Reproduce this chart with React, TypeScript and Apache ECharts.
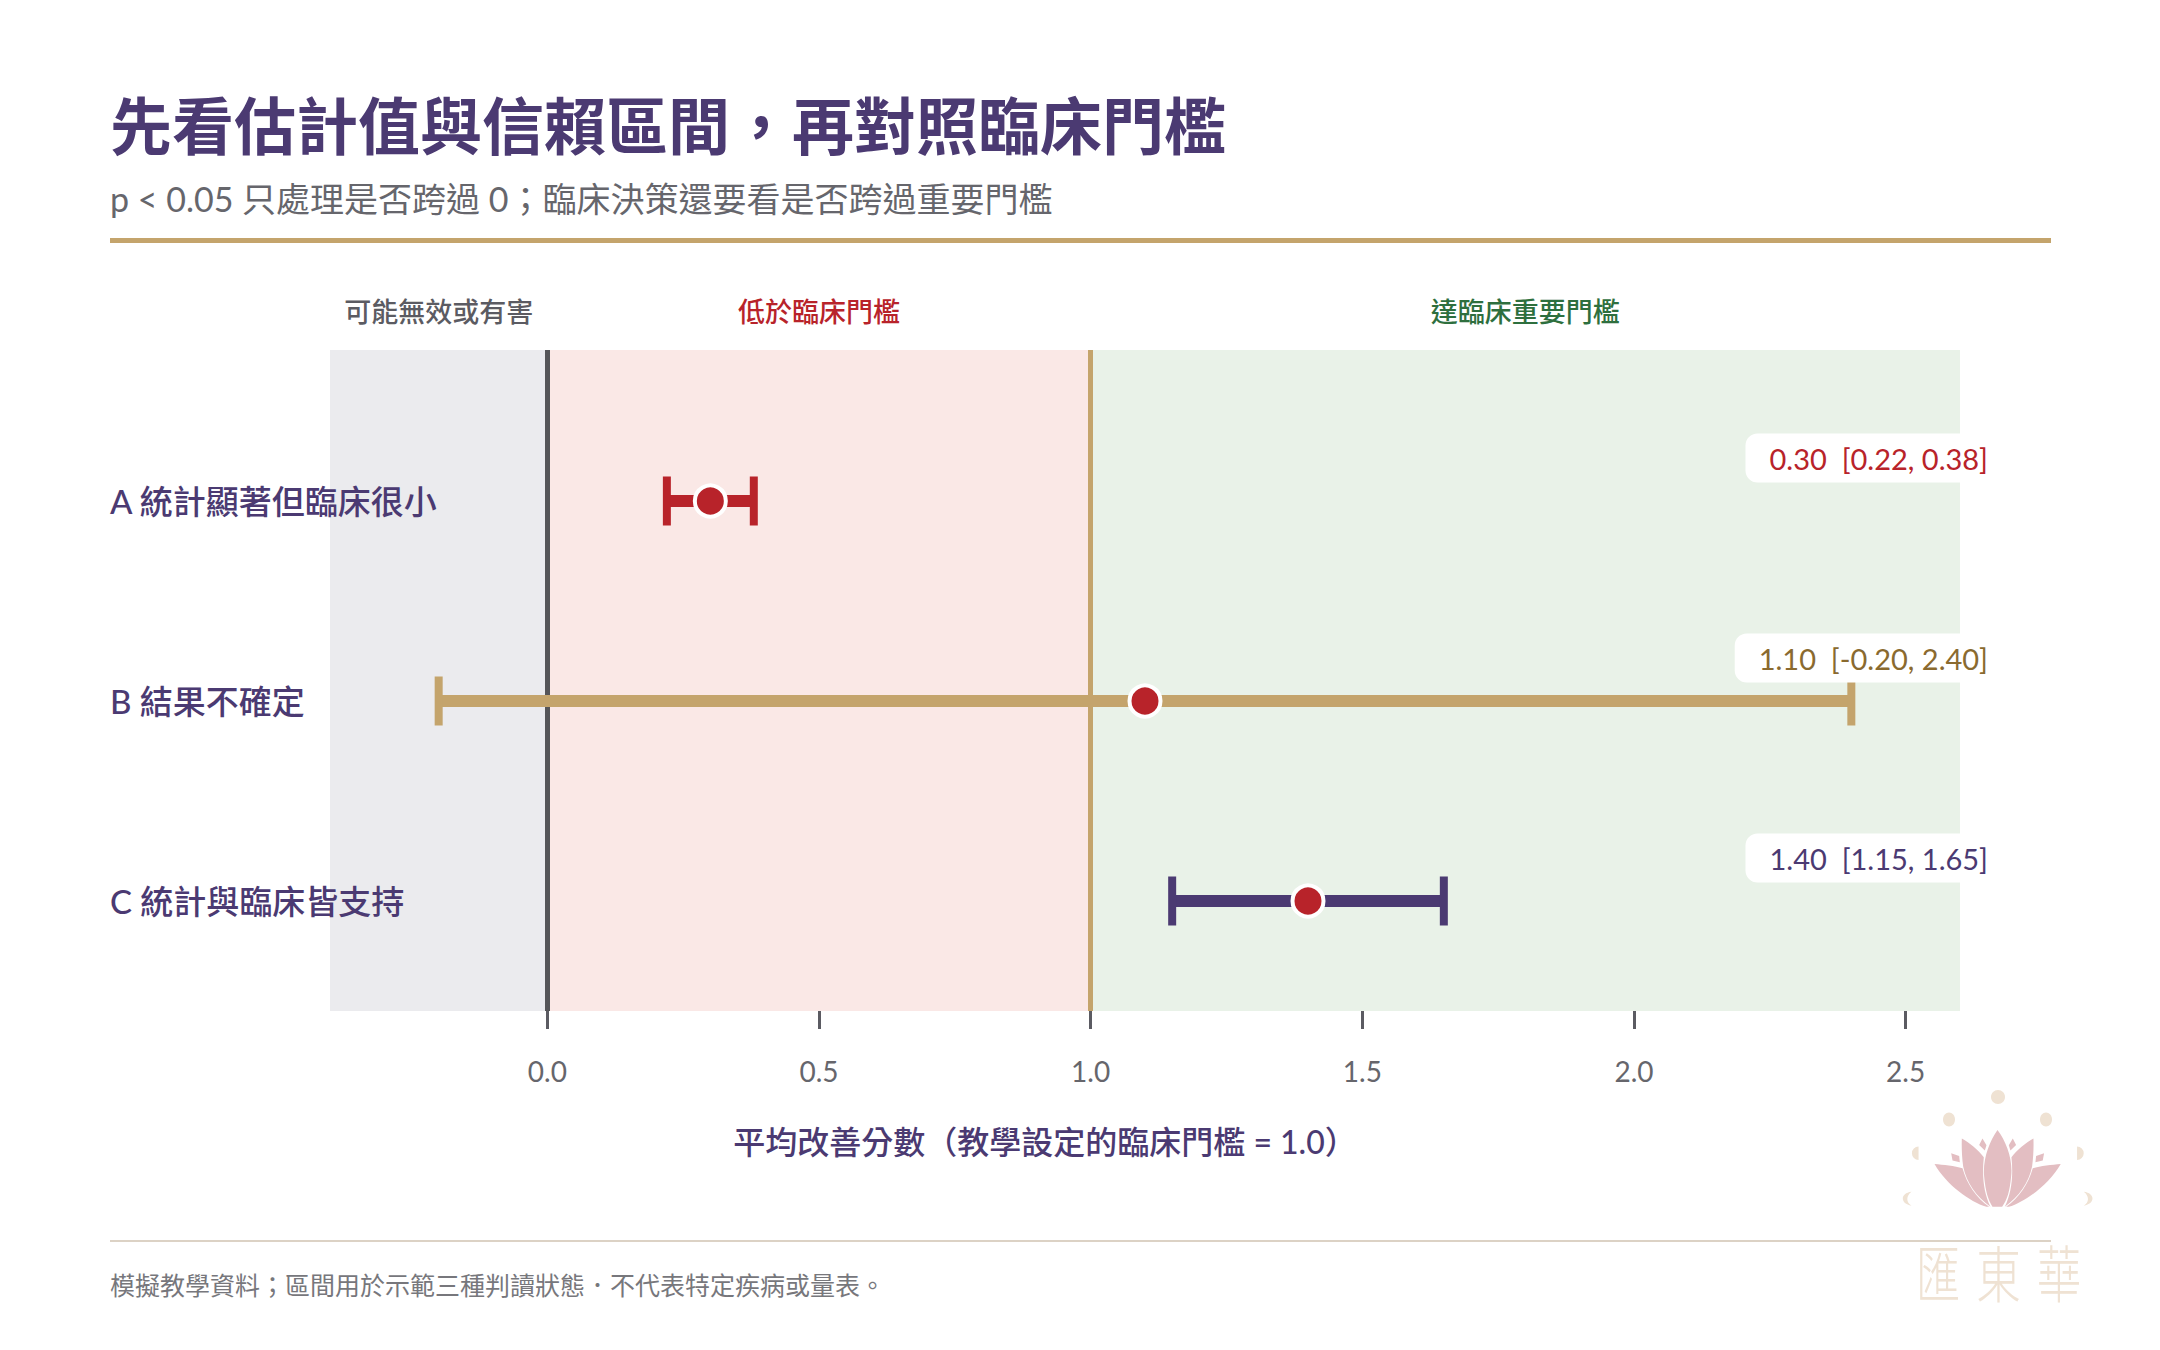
import React, { useEffect, useRef } from "react";
import * as echarts from "echarts";

const FONT = 'Lato, "Noto Sans CJK TC", "Noto Sans CJK SC", sans-serif';
const PURPLE = "#4B3A72";
const GOLD = "#C4A46C";
const RED = "#B8232A";
const GREY = "#5B5B62";

const title = "先看估計值與信賴區間，再對照臨床門檻";
const subtitle = "p < 0.05 只處理是否跨過 0；臨床決策還要看是否跨過重要門檻";
const xAxisTitle = "平均改善分數（教學設定的臨床門檻 = 1.0）";
const footnote = "模擬教學資料；區間用於示範三種判讀狀態．不代表特定疾病或量表。";
const logoChars = ["匯", "東", "華"];

const categories = ["A 統計顯著但臨床很小", "B 結果不確定", "C 統計與臨床皆支持"];
const estimates = [0.3, 1.1, 1.4];
const lows = [0.22, -0.2, 1.15];
const highs = [0.38, 2.4, 1.65];
const barColors = [RED, GOLD, PURPLE];
const labelColors = [RED, "#8A6A2F", PURPLE];

const xTicks = [0, 0.5, 1, 1.5, 2, 2.5];
const regionNames = ["可能無效或有害", "低於臨床門檻", "達臨床重要門檻"];
const regionStarts = [-0.4, 0, 1];
const regionEnds = [0, 1, 2.6];
const regionFills = ["#EBEBEE", "#FAE8E6", "#E9F2E8"];
const regionTextColors = [GREY, RED, "#2E6F3E"];

const lotusPath =
  "M593 210C620 245 640 300 634 350C630 395 622 420 607 441L578 441C565 420 557 395 553 350C548 300 568 245 593 210Z" +
  "M486 236C510 250 535 270 552 292C546 350 552 400 572 441C530 410 500 370 490 320C486 290 485 260 486 236Z" +
  "M701 236C677 250 652 270 635 292C641 350 635 400 615 441C657 410 687 370 697 320C701 290 702 260 701 236Z" +
  "M404 312C430 314 465 318 488 325C500 370 530 415 568 441L560 441C510 425 440 375 404 312Z" +
  "M783 312C757 314 722 318 699 325C687 370 657 415 619 441L627 441C677 425 747 375 783 312Z" +
  "M548 236L560 256L555 272L538 255Z M639 236L627 256L632 272L649 255Z" +
  "M454 280L478 288L480 307L458 302Z M733 280L709 288L707 307L729 302Z";
const lotusDots =
  "M356 260A20 20 0 0 0 356 300Z M832 260A20 20 0 0 1 832 300Z" +
  "M335 396C300 400 300 432 335 438C318 428 318 408 335 396Z" +
  "M852 396C887 400 887 432 852 438C869 428 869 408 852 396Z";

echarts.graphic.registerShape("lotus", echarts.graphic.extendPath(lotusPath, {}) as any);
echarts.graphic.registerShape("lotusDots", echarts.graphic.extendPath(lotusDots, {}) as any);

function renderInterval(params: any, api: any) {
  const i = params.dataIndex;
  const y = api.value(0);
  const [x0, yc] = api.coord([api.value(2), y]);
  const [x1] = api.coord([api.value(3), y]);
  const [xm] = api.coord([api.value(1), y]);
  const [xEnd] = api.coord([2.6, y]);
  const barH = 12;
  const capW = 8;
  const capH = 49;
  return {
    type: "group",
    children: [
      { type: "rect", shape: { x: x0, y: yc - barH / 2, width: x1 - x0, height: barH }, style: { fill: barColors[i] } },
      { type: "rect", shape: { x: x0 - capW / 2, y: yc - capH / 2, width: capW, height: capH }, style: { fill: barColors[i] } },
      { type: "rect", shape: { x: x1 - capW / 2, y: yc - capH / 2, width: capW, height: capH }, style: { fill: barColors[i] } },
      { type: "circle", shape: { cx: xm, cy: yc, r: 15.5 }, style: { fill: RED, stroke: "#FFFFFF", lineWidth: 4 } },
      {
        type: "text",
        style: {
          x: xEnd + 52,
          y: yc - 43,
          text: `${api.value(1).toFixed(2)}  [${api.value(2).toFixed(2)}, ${api.value(3).toFixed(2)}]`,
          fill: labelColors[i],
          font: `400 29px ${FONT}`,
          align: "right",
          verticalAlign: "middle",
          lineHeight: 31,
          backgroundColor: "#FFFFFF",
          padding: [9, 24, 9, 24],
          borderRadius: 12,
        },
      },
    ],
  };
}

function buildOption() {
  return {
    animation: false,
    backgroundColor: "#FFFFFF",
    textStyle: { fontFamily: FONT },
    grid: { left: 330, right: 200, top: 350, height: 661, containLabel: false },
    xAxis: {
      type: "value",
      min: -0.4,
      max: 2.6,
      z: 10,
      splitLine: { show: false },
      axisLine: { show: true, onZero: false, lineStyle: { color: "rgba(0,0,0,0)", width: 0 } },
      axisTick: { show: true, customValues: xTicks, length: 18, lineStyle: { color: GREY, width: 3 } },
      axisLabel: {
        customValues: xTicks,
        margin: 46,
        color: "#66666C",
        fontSize: 28,
        fontFamily: FONT,
        formatter: (v: number) => v.toFixed(1),
      },
    },
    yAxis: {
      type: "value",
      inverse: true,
      min: -0.755,
      max: 2.55,
      z: 10,
      splitLine: { show: false },
      axisLine: { show: false },
      axisTick: { show: false },
      axisLabel: {
        customValues: [0, 1, 2],
        margin: 220,
        align: "left",
        color: PURPLE,
        fontSize: 33,
        fontWeight: 500,
        fontFamily: FONT,
        formatter: (v: number) => categories[v],
      },
    },
    series: [
      {
        type: "custom",
        name: "interval",
        coordinateSystem: "cartesian2d",
        clip: false,
        z: 5,
        encode: { x: [1, 2, 3], y: 0 },
        data: categories.map((_, i) => [i, estimates[i], lows[i], highs[i]]),
        renderItem: renderInterval,
        markArea: {
          silent: true,
          z: 1,
          data: regionNames.map((name, i) => [
            {
              name,
              xAxis: regionStarts[i],
              itemStyle: { color: regionFills[i] },
              label: {
                show: true,
                position: "top",
                distance: 25,
                color: regionTextColors[i],
                fontSize: 27,
                fontWeight: 500,
                fontFamily: FONT,
              },
            },
            { xAxis: regionEnds[i] },
          ]),
        },
        markLine: {
          silent: true,
          symbol: "none",
          z: 2,
          label: { show: false },
          data: [
            { xAxis: 0, lineStyle: { color: "#555558", width: 5, type: "solid" } },
            { xAxis: 1, lineStyle: { color: GOLD, width: 5, type: "solid" } },
          ],
        },
      },
    ],
    graphic: [
      { type: "text", x: 110, y: 126, style: { text: title, font: `700 62px ${FONT}`, fill: PURPLE, verticalAlign: "middle" } },
      { type: "text", x: 110, y: 198, style: { text: subtitle, font: `400 34px ${FONT}`, fill: "#66666C", verticalAlign: "middle" } },
      { type: "rect", shape: { x: 110, y: 238, width: 1941, height: 5 }, style: { fill: GOLD } },
      { type: "text", x: 1045, y: 1141, style: { text: xAxisTitle, font: `500 32px ${FONT}`, fill: PURPLE, align: "center", verticalAlign: "middle" } },
      { type: "rect", shape: { x: 110, y: 1240, width: 1941, height: 2 }, style: { fill: "#DCD2C5" } },
      { type: "text", x: 110, y: 1285, style: { text: footnote, font: `400 25px ${FONT}`, fill: "#77777C", verticalAlign: "middle" } },
      { type: "lotus", x: 1800, y: 1060, scaleX: 1 / 3, scaleY: 1 / 3, style: { fill: "#E3BEC2" } },
      { type: "lotusDots", x: 1800, y: 1060, scaleX: 1 / 3, scaleY: 1 / 3, style: { fill: "#EFE2D3" } },
      { type: "ellipse", shape: { cx: 1998, cy: 1097, rx: 7, ry: 7 }, style: { fill: "#EFE2D3" } },
      { type: "ellipse", shape: { cx: 1949, cy: 1119.5, rx: 6, ry: 7 }, style: { fill: "#EFE2D3" } },
      { type: "ellipse", shape: { cx: 2046, cy: 1119.5, rx: 6, ry: 7 }, style: { fill: "#EFE2D3" } },
      ...logoChars.map((ch, i) => ({
        type: "text",
        x: 1938 + i * 60.5,
        y: 1271,
        scaleX: 0.72,
        style: { text: ch, font: `300 62px "Noto Sans CJK TC", sans-serif`, fill: "#EFE2D3", align: "center", verticalAlign: "middle" },
      })),
    ],
  };
}

export default function App() {
  const ref = useRef<HTMLDivElement>(null);
  useEffect(() => {
    document.body.style.margin = "0";
    const chart = echarts.init(ref.current as HTMLDivElement, undefined, { renderer: "svg" });
    chart.setOption(buildOption() as any);
    return () => chart.dispose();
  }, []);
  return <div ref={ref} style={{ width: 2160, height: 1350, position: "absolute", left: 0, top: 0 }} />;
}
